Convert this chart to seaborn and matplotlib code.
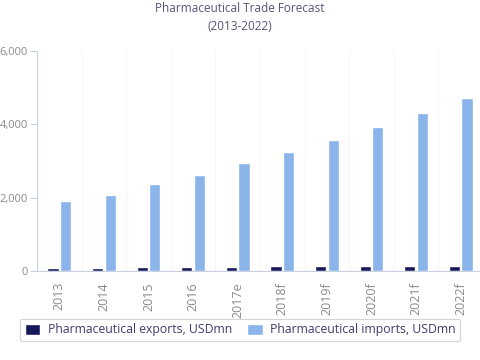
import matplotlib
matplotlib.use("Agg")
import matplotlib.pyplot as plt
import seaborn as sns
import pandas as pd
import numpy as np

years = ["2013", "2014", "2015", "2016", "2017e", "2018f", "2019f", "2020f", "2021f", "2022f"]
exports = [70, 70, 100, 100, 100, 130, 130, 130, 140, 140]
imports = [1920, 2070, 2370, 2620, 2940, 3240, 3570, 3920, 4320, 4710]
series_names = ["Pharmaceutical exports, USDmn", "Pharmaceutical imports, USDmn"]
colors = ["#17175c", "#8ab4ea"]
yticks = [0, 2000, 4000, 6000]

df = pd.DataFrame({
    "year": years * 2,
    "value": exports + imports,
    "series": [series_names[0]] * len(years) + [series_names[1]] * len(years),
})

sns.set_theme(style="white")
plt.rcParams["font.family"] = ["Open Sans", "DejaVu Sans"]

fig = plt.figure(figsize=(4.8, 3.6), dpi=100)
ax = fig.add_axes([37 / 480, 1 - 271 / 360, 446 / 480, 220 / 360])

sns.barplot(data=df, x="year", y="value", hue="series", palette=colors,
            width=0.56, gap=0.1, ax=ax, saturation=1, legend=True)

ax.set_ylim(0, 6000)
ax.set_xlim(-0.5, len(years) - 0.5)
ax.set_yticks(yticks)
ax.set_yticklabels([f"{v:,}" for v in yticks], color="#8a8a8a", fontsize=8)
ax.set_xlabel("")
ax.set_ylabel("")
ax.set_xticks(range(len(years)))
ax.set_xticklabels(years, rotation=90, color="#8a8a8a", fontsize=9)
ax.tick_params(axis="x", which="major", length=0, pad=8)
ax.set_xticks(np.arange(-0.5, len(years), 1), minor=True)
ax.tick_params(axis="x", which="minor", length=4, color="#c8d0e0", width=0.8)
ax.tick_params(axis="y", length=5, color="#c8d0e0", width=0.8, left=True, pad=1.5)
ax.grid(False)
for xb in np.arange(0.5, len(years) - 0.5, 1):
    ax.axvline(xb, color="#f7f7f9", lw=0.8, zorder=0)
for s in ["top", "right"]:
    ax.spines[s].set_visible(False)
ax.spines["left"].set_color("#c8d0e0")
ax.spines["bottom"].set_color("#c8d0e0")
ax.spines["left"].set_linewidth(0.8)
ax.spines["bottom"].set_linewidth(0.8)

fig.text(0.5, 1 - 9 / 360, "Pharmaceutical Trade Forecast", ha="center", va="center",
         color="#55557a", fontsize=8.5)
fig.text(0.5, 1 - 27 / 360, "(2013-2022)", ha="center", va="center",
         color="#55557a", fontsize=8.5)

handles, labels = ax.get_legend_handles_labels()
ax.get_legend().remove()
leg = fig.legend(handles, labels, loc="center", bbox_to_anchor=(240 / 480, 1 - 330 / 360),
                 ncol=2, frameon=True, fontsize=8.8, handlelength=1.3, handleheight=1.0,
                 columnspacing=1.2, handletextpad=0.6, borderpad=0.4, fancybox=True,
                 labelcolor="#3d3d70")
leg.get_frame().set_edgecolor("#c8c8c8")
leg.get_frame().set_linewidth(0.8)

fig.savefig("out.png", dpi=100)
